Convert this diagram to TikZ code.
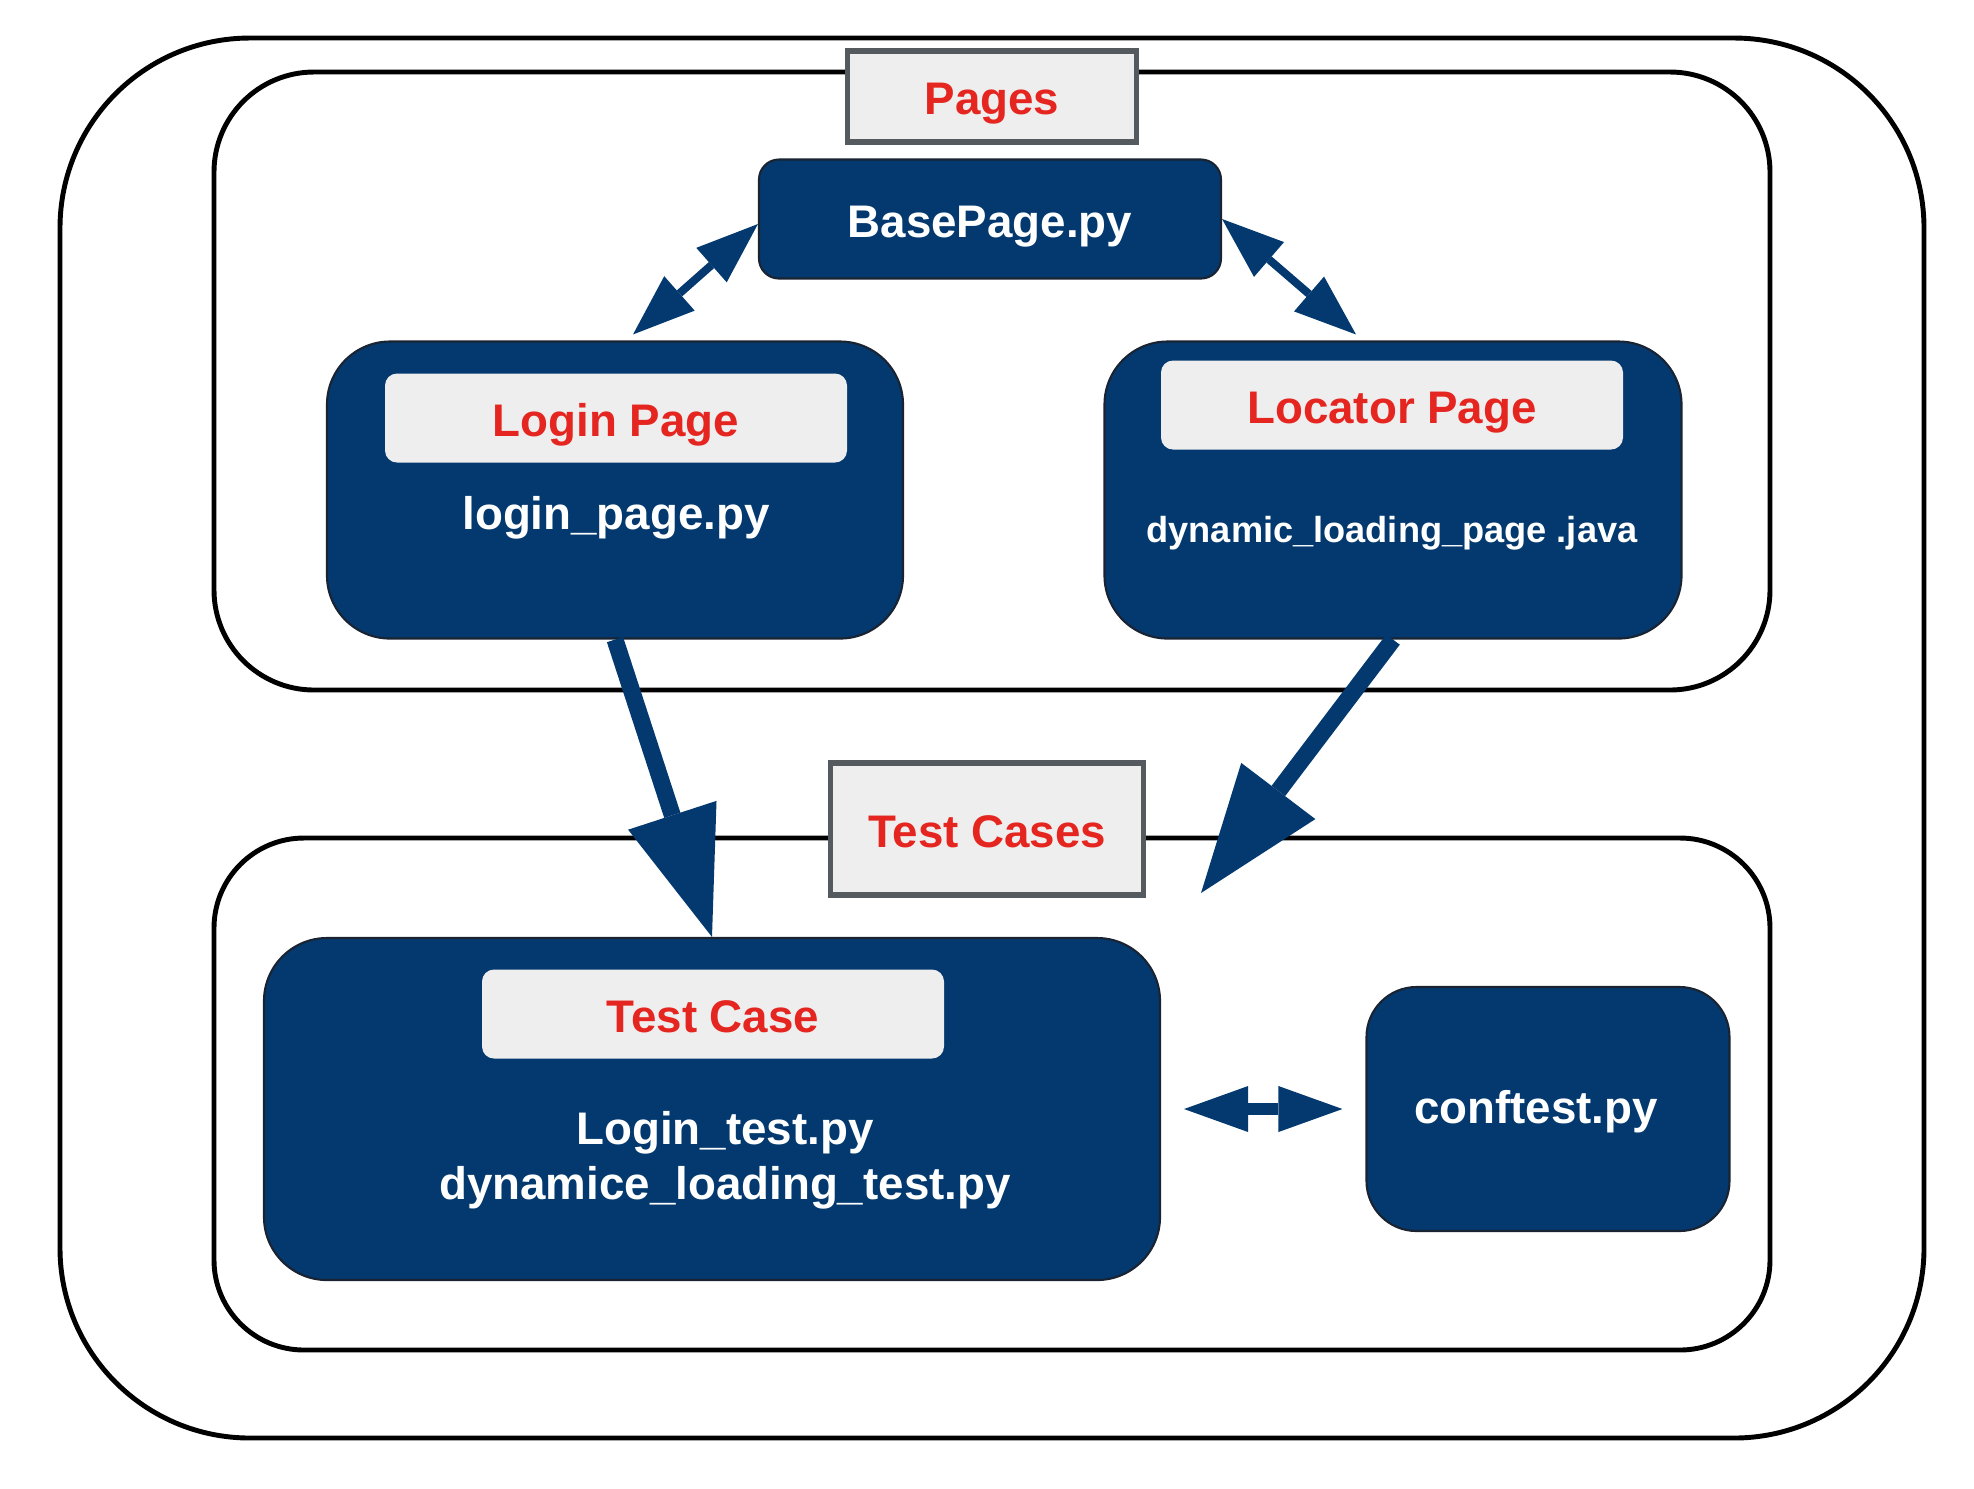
\documentclass[tikz,border=0pt]{standalone}
\usepackage{fontspec}
\setmainfont{Liberation Sans}
\usetikzlibrary{positioning,arrows.meta}

\definecolor{navy}{RGB}{3,57,110}
\definecolor{boxedge}{RGB}{25,35,50}
\definecolor{tagred}{RGB}{229,38,32}
\definecolor{tagfill}{RGB}{238,238,238}
\definecolor{tagline}{RGB}{85,90,95}

\begin{document}
\begin{tikzpicture}[
  % Node Styles
  frame/.style={rectangle, draw=black, line width=1.4pt, minimum width=15.56cm},
  bluebox/.style={rectangle, rounded corners=0.63cm, draw=boxedge, line width=0.6pt, fill=navy, text=white, align=center, text height=1.15em, text depth=0.12em},
  tag/.style={rectangle, rounded corners=0.12cm, fill=tagfill, text=tagred, minimum width=4.62cm, minimum height=0.89cm, text height=1.15em, text depth=0.12em},
  grouptag/.style={rectangle, draw=tagline, line width=1.7pt, fill=tagfill, text=tagred, text height=1.15em, text depth=0.12em},
  % Arrow Styles
  bigarrow/.style={-{Triangle[length=1.28cm, width=0.93cm, line width=0pt]}, line width=0.17cm, draw=navy},
  dblarrow/.style={{Triangle[length=0.62cm, width=0.46cm, line width=0pt]}-{Triangle[length=0.62cm, width=0.46cm, line width=0pt]}, line width=0.08cm, draw=navy},
  sidearrow/.style={{Triangle[length=0.64cm, width=0.46cm, line width=0pt]}-{Triangle[length=0.64cm, width=0.46cm, line width=0pt]}, line width=0.127cm, draw=navy, shorten <=0.23cm, shorten >=0.23cm},
]
\tikzset{font=\fontsize{13}{15.6}\selectfont\bfseries}

\useasboundingbox (0,0) rectangle (19.74,-14.88);

% Groups
\node[frame, rounded corners=1.9cm, minimum width=18.64cm, minimum height=14.00cm] (outer) at (9.92,-7.38) {};
\node[frame, rounded corners=1.0cm, minimum height=6.18cm] (pages) at (9.92,-3.81) {};
\node[frame, rounded corners=0.9cm, minimum height=5.12cm] (tests) at (9.92,-10.94) {};
\node[grouptag, minimum width=2.89cm, minimum height=0.91cm] (pagestag) at (9.92,-0.96) {Pages};
\node[grouptag, minimum width=3.13cm, minimum height=1.32cm] (teststag) at (9.87,-8.29) {Test Cases};

% Pages
\node[bluebox, rounded corners=0.2cm, minimum width=4.62cm, minimum height=1.19cm] (base) at (9.90,-2.19) {BasePage.py};
\node[bluebox, minimum width=5.76cm, minimum height=2.97cm] (login) at (6.15,-4.90) {};
\node[bluebox, minimum width=5.77cm, minimum height=2.97cm] (locator) at (13.93,-4.90) {};
\node[tag] (logintag) at (6.16,-4.18) {Login Page};
\node[text=white] (loginfile) at (6.16,-5.18) {login\_page.py};
\node[tag] (locatortag) at (13.92,-4.05) {Locator Page};
\node[text=white, font=\fontsize{10.3}{12}\selectfont\bfseries] (locatorfile) at (13.92,-5.33) {dynamic\_loading\_page .java};

% Test Cases
\node[bluebox, minimum width=8.96cm, minimum height=3.42cm] (testcase) at (7.12,-11.09) {};
\node[tag] (testcasetag) at (7.13,-10.14) {Test Case};
\node[text=white, align=center] (testfiles) at (7.25,-11.60) {Login\_test.py\\dynamice\_loading\_test.py};
\node[bluebox, rounded corners=0.5cm, minimum width=3.63cm, minimum height=2.44cm] (conftest) at (15.48,-11.09) {};
\node[text=white] (conftestfile) at (15.36,-11.12) {conftest.py};

\coordinate (drop) at (12.01,-8.93);

\draw[dblarrow] ([yshift=-0.05cm]base.west) -- ([xshift=0.18cm, yshift=0.06cm]login.north);
\draw[dblarrow] (base.east) -- ([xshift=-0.37cm, yshift=0.06cm]locator.north);
\draw[bigarrow] (login.south) -- (testcase.north);
\draw[bigarrow] (locator.south) -- (drop);
\draw[sidearrow] (testcase.east) -- (conftest.west);

\end{tikzpicture}
\end{document}
